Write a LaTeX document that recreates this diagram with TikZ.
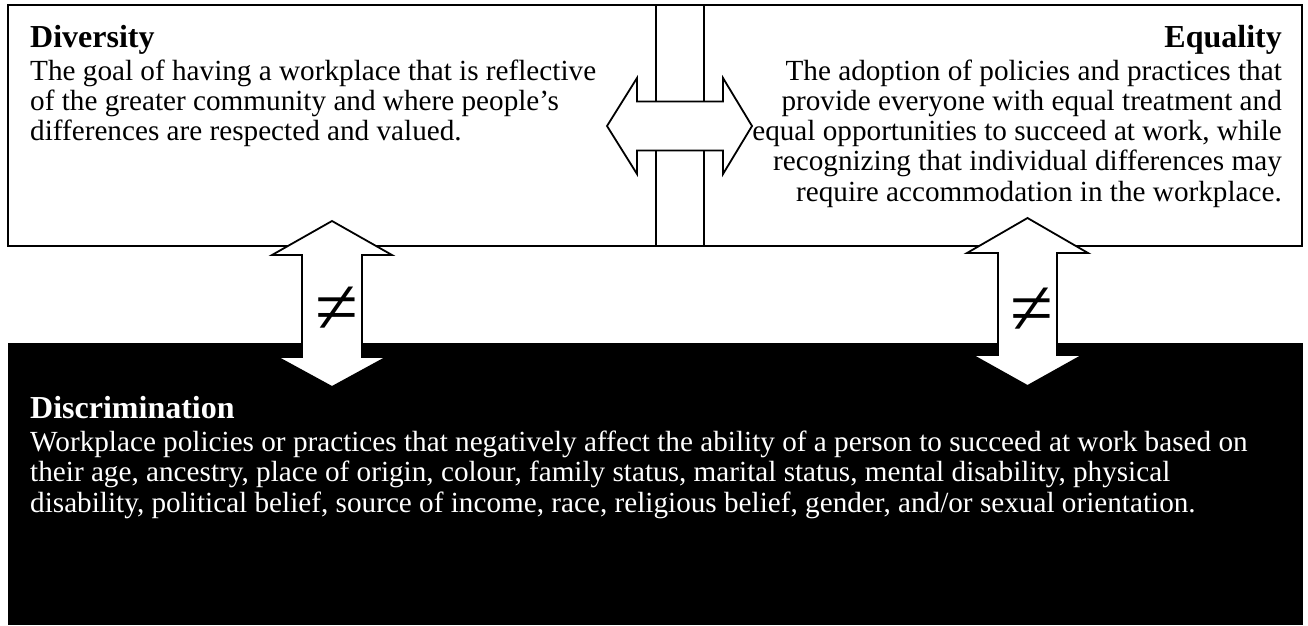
\documentclass[tikz,border=0pt]{standalone}
\usepackage{fontspec}
\setmainfont{Liberation Serif}
\begin{document}
\begin{tikzpicture}[x=1pt,y=-1pt,
  frame/.style={draw=black,line width=1.8pt,fill=white},
  arr/.style={draw=black,line width=1.8pt,fill=white,line join=miter},
  txt/.style={font=\fontsize{29.2}{30.2}\selectfont,inner sep=0pt},
  head/.style={font=\fontsize{32}{32}\selectfont\bfseries,inner sep=0pt},
  neq/.style={font=\fontsize{78}{78}\selectfont,inner sep=0pt,anchor=center}]
\path[use as bounding box] (0,0) rectangle (1308,625);
\fill[white] (0,0) rectangle (1308,625);
% top panel and middle bar
\draw[frame] (8,5) rectangle (1302,246);
\draw[frame] (656,5) rectangle (704,246);
% horizontal double arrow
\draw[arr] (607,126) -- (637,78) -- (637,101.5) -- (723,101.5) -- (723,78) -- (752,126)
  -- (723,174) -- (723,150.5) -- (637,150.5) -- (637,174) -- cycle;
% black panel
\fill[black] (8,343) rectangle (1303,625);
% left vertical double arrow
\draw[arr] (332,221) -- (392,255) -- (362,255) -- (362,357) -- (387,357) -- (332,387)
  -- (277,357) -- (302,357) -- (302,255) -- (272,255) -- cycle;
% right vertical double arrow
\draw[arr] (1027.5,218) -- (1088,253) -- (1057,253) -- (1057,355) -- (1083,355) -- (1027.5,386)
  -- (972,355) -- (998,355) -- (998,253) -- (967,253) -- cycle;
\node[neq] (neqL) at (336.5,310) {≠};
\node[neq] (neqR) at (1031.5,311) {≠};
% texts
\node[head,anchor=base west] (divh) at (30,47) {Diversity};
\node[txt,anchor=base west,align=left] (divb) at (30,140.5)
  {The goal of having a workplace that is reflective\\of the greater community and where people’s\\differences are respected and valued.};
\node[head,anchor=base east] (eqh) at (1282,47) {Equality};
\node[txt,anchor=base east,align=right] (eqb) at (1282,201)
  {The adoption of policies and practices that\\provide everyone with equal treatment and\\equal opportunities to succeed at work, while\\recognizing that individual differences may\\require accommodation in the workplace.};
\node[head,text=white,anchor=base west] (dish) at (30,418) {Discrimination};
\node[txt,text=white,anchor=base west,align=left] (disb) at (30,512)
  {Workplace policies or practices that negatively affect the ability of a person to succeed at work based on\\their age, ancestry, place of origin, colour, family status, marital status, mental disability, physical\\disability, political belief, source of income, race, religious belief, gender, and/or sexual orientation.};
\end{tikzpicture}
\end{document}
